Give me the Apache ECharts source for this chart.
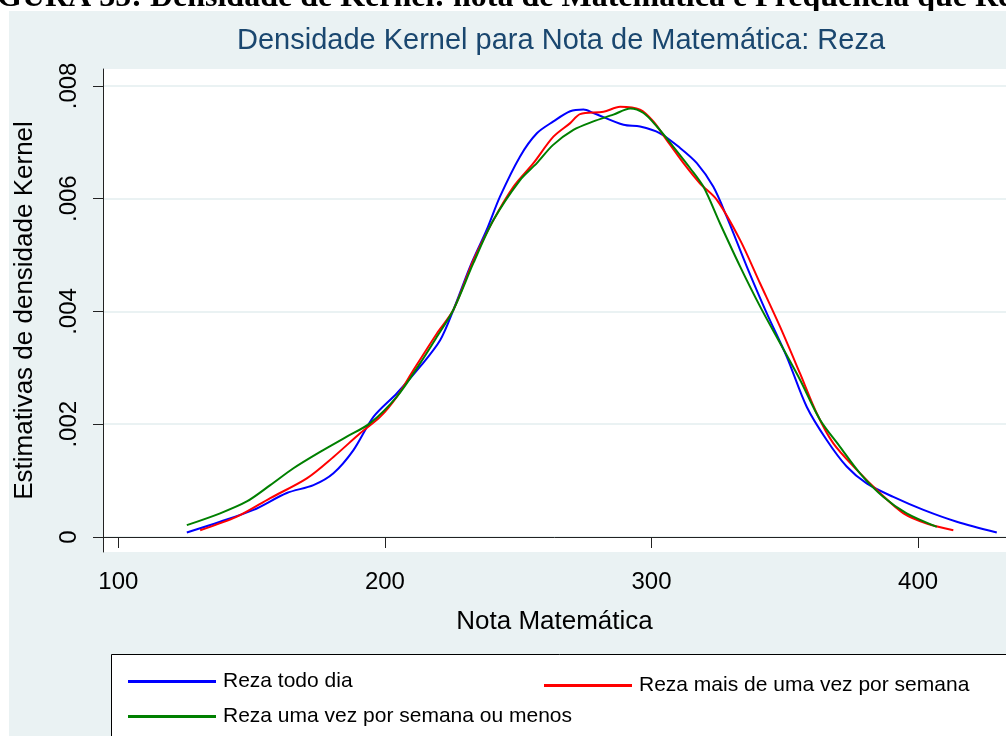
<!DOCTYPE html>
<html>
<head>
<meta charset="utf-8">
<script src="https://cdn.jsdelivr.net/npm/echarts@6/dist/echarts.min.js"></script>
<style>
  html, body { margin: 0; padding: 0; background: #fff; }
  #chart { width: 1006px; height: 736px; }
</style>
</head>
<body>
<div id="chart"></div>
<script>
// Kernel density estimates of the math score, by prayer frequency
var notaTodoDia = [125.7, 138.2, 150.7, 163.2, 173.2, 180.7, 188.2, 195.7, 204.5, 213.2, 220.7, 225.7, 232.0, 238.2, 243.2, 250.7, 257.0, 263.2, 269.5, 274.5, 278.2, 289.5, 295.7, 303.2, 310.7, 317.0, 323.2, 328.2, 335.7, 343.2, 350.7, 358.2, 365.7, 373.2, 380.7, 390.7, 402.0, 414.5, 429.5];
var densTodoDia = [0.00008, 0.00027, 0.00048, 0.00078, 0.00092, 0.00113, 0.00154, 0.00213, 0.00255, 0.00302, 0.00349, 0.00403, 0.00480, 0.00545, 0.00604, 0.00675, 0.00716, 0.00737, 0.00755, 0.00758, 0.00752, 0.00731, 0.00728, 0.00716, 0.00690, 0.00663, 0.00621, 0.00568, 0.00480, 0.00397, 0.00320, 0.00231, 0.00172, 0.00125, 0.00095, 0.00071, 0.00048, 0.00027, 0.00008];

var notaMaisVez = [130.7, 144.5, 157.0, 170.7, 180.7, 190.7, 198.2, 204.5, 210.7, 219.5, 225.7, 233.2, 240.7, 248.2, 255.7, 263.2, 269.5, 273.2, 282.0, 288.2, 295.7, 300.7, 305.7, 312.0, 318.2, 324.5, 333.2, 340.7, 348.2, 355.7, 362.0, 368.2, 377.0, 385.7, 394.5, 403.2, 413.2];
var densMaisVez = [0.00012, 0.00036, 0.00069, 0.00104, 0.00142, 0.00184, 0.00213, 0.00249, 0.00296, 0.00361, 0.00403, 0.00491, 0.00562, 0.00621, 0.00663, 0.00710, 0.00734, 0.00750, 0.00754, 0.00763, 0.00758, 0.00737, 0.00704, 0.00663, 0.00627, 0.00598, 0.00527, 0.00450, 0.00373, 0.00290, 0.00219, 0.00166, 0.00119, 0.00078, 0.00042, 0.00024, 0.00012];

var notaUmaVez = [125.7, 138.2, 148.2, 157.0, 165.7, 175.7, 185.7, 194.5, 204.5, 213.2, 219.5, 225.7, 233.2, 240.7, 250.7, 257.0, 263.0, 270.7, 278.2, 285.7, 292.0, 297.0, 302.0, 308.2, 314.5, 319.5, 325.7, 333.2, 340.7, 348.2, 355.7, 363.2, 370.7, 378.2, 387.0, 395.7, 407.0];
var densUmaVez = [0.00021, 0.00042, 0.00063, 0.00092, 0.00122, 0.00151, 0.00178, 0.00202, 0.00249, 0.00308, 0.00355, 0.00403, 0.00486, 0.00562, 0.00633, 0.00663, 0.00695, 0.00722, 0.00737, 0.00749, 0.00760, 0.00752, 0.00728, 0.00692, 0.00654, 0.00621, 0.00556, 0.00480, 0.00409, 0.00344, 0.00279, 0.00208, 0.00160, 0.00113, 0.00071, 0.00042, 0.00018];

var seriesNames = ['Reza todo dia', 'Reza mais de uma vez por semana', 'Reza uma vez por semana ou menos'];
var xTicks = [100, 200, 300, 400];
var yTicks = [0, 0.002, 0.004, 0.006, 0.008];

function pairs(xs, ys) {
  return xs.map(function (x, i) { return [x, ys[i]]; });
}

var FONT = '"Liberation Sans", Arial, sans-serif';
var chart = echarts.init(document.getElementById('chart'), null, { renderer: 'canvas' });

var legendBase = {
  icon: 'rect',
  itemWidth: 88,
  itemHeight: 3,
  selectedMode: false,
  textStyle: { fontFamily: FONT, fontSize: 21, color: '#000', padding: [0, 0, 0, 2] }
};

chart.setOption({
  backgroundColor: '#ffffff',
  animation: false,
  title: {
    text: 'Densidade Kernel para Nota de Matemática: Reza',
    left: 232,
    top: 21,
    textStyle: { fontFamily: FONT, fontSize: 29, fontWeight: 'normal', color: '#1A476F' }
  },
  graphic: [
    {
      type: 'text', z: -20, x: -35, y: 14,
      style: {
        text: 'FIGURA 35: Densidade de Kernel: nota de Matemática e Frequência que Rezam',
        font: 'bold 32px "Liberation Serif", "Times New Roman", serif',
        fill: '#000', verticalAlign: 'bottom'
      }
    },
    {
      type: 'rect', z: -10, shape: { x: 9, y: 11, width: 1010, height: 740 },
      style: { fill: '#EAF2F3' }
    },
    {
      type: 'rect', z: -5, shape: { x: 111.5, y: 654.5, width: 920, height: 100 },
      style: { fill: '#ffffff', stroke: '#000', lineWidth: 1 }
    }
  ],
  legend: [
    Object.assign({ data: [seriesNames[0]], left: 123, top: 666 }, legendBase),
    Object.assign({ data: [seriesNames[1]], left: 539, top: 670 }, legendBase),
    Object.assign({ data: [seriesNames[2]], left: 123, top: 701 }, legendBase)
  ],
  grid: {
    left: 103, top: 69, right: 0, bottom: 736 - 552,
    show: true, backgroundColor: '#ffffff', borderWidth: 0
  },
  xAxis: {
    type: 'value',
    min: 94.26, max: 432.96,
    name: 'Nota Matemática',
    nameLocation: 'middle',
    nameGap: 57,
    nameTextStyle: { fontFamily: FONT, fontSize: 26, color: '#000' },
    axisLine: { show: true, lineStyle: { color: '#222', width: 1 } },
    axisTick: { show: true, length: 11, customValues: xTicks, lineStyle: { color: '#222' } },
    axisLabel: {
      customValues: xTicks, margin: 18,
      fontFamily: FONT, fontSize: 24, color: '#000'
    },
    splitLine: { show: false }
  },
  yAxis: {
    type: 'value',
    min: -0.000266, max: 0.0083,
    name: 'Estimativas de densidade Kernel',
    nameLocation: 'middle',
    nameGap: 65,
    nameTextStyle: { fontFamily: FONT, fontSize: 26, color: '#000' },
    axisLine: { show: true, lineStyle: { color: '#222', width: 1 } },
    axisTick: { show: true, length: 10, customValues: yTicks, lineStyle: { color: '#222' } },
    axisLabel: {
      customValues: yTicks, margin: 22, rotate: 90,
      fontFamily: FONT, fontSize: 24, color: '#000',
      formatter: function (v) {
        if (v === 0) return '0';
        return v.toFixed(3).replace(/^0/, '');
      }
    },
    splitLine: { show: true, lineStyle: { color: '#EAF2F3', width: 2 } }
  },
  series: [
    {
      name: seriesNames[0], type: 'line', data: pairs(notaTodoDia, densTodoDia),
      showSymbol: false, smooth: 0.3, color: '#0000FF', lineStyle: { width: 2 }
    },
    {
      name: seriesNames[1], type: 'line', data: pairs(notaMaisVez, densMaisVez),
      showSymbol: false, smooth: 0.3, color: '#FF0000', lineStyle: { width: 2 }
    },
    {
      name: seriesNames[2], type: 'line', data: pairs(notaUmaVez, densUmaVez),
      showSymbol: false, smooth: 0.3, color: '#008000', lineStyle: { width: 2 }
    }
  ]
});
</script>
</body>
</html>
